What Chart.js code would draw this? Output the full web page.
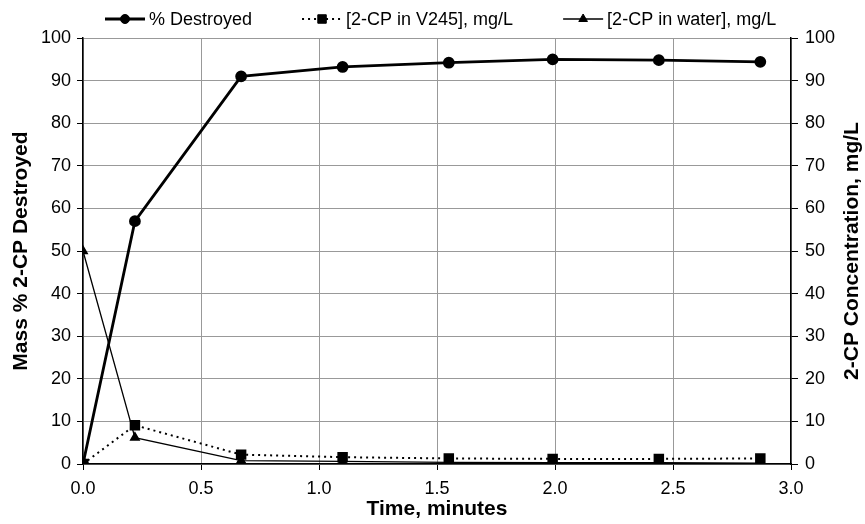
<!DOCTYPE html>
<html>
<head>
<meta charset="utf-8">
<script src="https://cdn.jsdelivr.net/npm/chart.js@4/dist/chart.umd.min.js"></script>
<style>
	html, body { margin: 0; padding: 0; background: #fff; }
	#wrap { width: 865px; height: 524px; }
</style>
</head>
<body>
<div id="wrap"><canvas id="DestroyChart"></canvas></div>
<script>
// time points, minutes
var times = [0, 0.22, 0.67, 1.10, 1.55, 1.99, 2.44, 2.87];
// series values
var pctDestroyed = [0, 57, 91, 93.2, 94.2, 95.0, 94.8, 94.4];
var concV245 = [0, 9.1, 2.2, 1.6, 1.3, 1.2, 1.2, 1.3];
var concWater = [50, 6.2, 0.8, 0.6, 0.4, 0.3, 0.3, 0.2];
var seriesNames = ["% Destroyed", "[2-CP in V245], mg/L", "[2-CP in water], mg/L"];
var rightTitle = "2-CP Concentration, mg/L";

function pts(ys) {
	return times.map(function(t, i){ return {x: t, y: ys[i]}; });
}

var fontFam = "'Liberation Sans', Arial, sans-serif";

// legend drawn as line + marker sample, like the original
var sampleLegend = {
	id: "sampleLegend",
	afterDraw: function(chart) {
		var ctx = chart.ctx;
		var x = 105, y = 19;
		ctx.save();
		ctx.font = "18px " + fontFam;
		ctx.textBaseline = "middle";
		chart.data.datasets.forEach(function(ds, i){
			var w = 40;
			ctx.strokeStyle = ds.borderColor;
			ctx.lineWidth = ds.borderWidth;
			ctx.setLineDash(ds.borderDash || []);
			ctx.beginPath();
			ctx.moveTo(x, y);
			ctx.lineTo(x + w, y);
			ctx.stroke();
			ctx.setLineDash([]);
			ctx.fillStyle = ds.pointBackgroundColor;
			ctx.strokeStyle = ds.pointBorderColor;
			ctx.lineWidth = 1;
			Chart.helpers.drawPoint(ctx, {pointStyle: ds.pointStyle, radius: ds.pointRadius, rotation: 0, borderWidth: 1}, x + w / 2, y);
			ctx.fillStyle = "#000";
			ctx.fillText(ds.label, x + w + 4, y + 1);
			x += w + 4 + ctx.measureText(ds.label).width + 50;
		});
		ctx.restore();
	}
};

// right axis title reads bottom-to-top in the original
var rightAxisTitle = {
	id: "rightAxisTitle",
	afterDraw: function(chart) {
		var ctx = chart.ctx, a = chart.chartArea;
		ctx.save();
		ctx.translate(852, (a.top + a.bottom) / 2);
		ctx.rotate(-Math.PI / 2);
		ctx.font = "bold 21px " + fontFam;
		ctx.fillStyle = "#000";
		ctx.textAlign = "center";
		ctx.textBaseline = "middle";
		ctx.fillText(rightTitle, 0, 0);
		ctx.restore();
	}
};

new Chart($id("DestroyChart"), {
	type: "line",
	data: {
		datasets: [{
			label: seriesNames[0],
			data: pts(pctDestroyed),
			yAxisID: "y",
			borderColor: "#000",
			borderWidth: 2.8,
			pointStyle: "circle",
			pointRadius: 4.5,
			pointBackgroundColor: "#000",
			pointBorderColor: "#000"
		}, {
			label: seriesNames[1],
			data: pts(concV245),
			yAxisID: "y2",
			borderColor: "#000",
			borderWidth: 2,
			borderDash: [2, 4],
			pointStyle: "rect",
			pointRadius: 6,
			pointBackgroundColor: "#000",
			pointBorderColor: "#000"
		}, {
			label: seriesNames[2],
			data: pts(concWater),
			yAxisID: "y2",
			borderColor: "#000",
			borderWidth: 1.3,
			pointStyle: "triangle",
			pointRadius: 5,
			pointBackgroundColor: "#000",
			pointBorderColor: "#000"
		}]
	},
	options: {
		responsive: true,
		maintainAspectRatio: false,
		animation: false,
		layout: { padding: { top: 38, left: 0, right: 0, bottom: 0 } },
		plugins: {
			legend: { display: false },
			tooltip: { enabled: false }
		},
		elements: { line: { tension: 0 } },
		scales: {
			x: {
				type: "linear",
				min: 0, max: 3,
				afterFit: function(s){ s.height = 60; },
				ticks: {
					stepSize: 0.5,
					padding: 8,
					color: "#000",
					font: { family: fontFam, size: 18 },
					callback: function(v){ return v.toFixed(1); }
				},
				grid: { color: "#999", lineWidth: 1, tickColor: "#000", tickLength: 6 },
				border: { color: "#000", width: 1.5 },
				title: {
					display: true,
					text: "Time, minutes",
					color: "#000",
					font: { family: fontFam, size: 21, weight: "bold" },
					padding: { top: 0, bottom: 2 }
				}
			},
			y: {
				position: "left",
				min: 0, max: 100,
				afterFit: function(s){ s.width = 83; },
				ticks: {
					stepSize: 10,
					padding: 6,
					color: "#000",
					font: { family: fontFam, size: 18 }
				},
				grid: { color: "#999", lineWidth: 1, tickColor: "#000", tickLength: 6 },
				border: { color: "#000", width: 1.5 },
				title: {
					display: true,
					text: "Mass % 2-CP Destroyed",
					color: "#000",
					font: { family: fontFam, size: 21, weight: "bold" },
					padding: { top: 9, bottom: 0 }
				}
			},
			y2: {
				position: "right",
				min: 0, max: 100,
				afterFit: function(s){ s.width = 74; },
				ticks: {
					stepSize: 10,
					padding: 7,
					color: "#000",
					font: { family: fontFam, size: 18 }
				},
				grid: { drawOnChartArea: false, tickColor: "#000", tickLength: 7 },
				border: { color: "#000", width: 1.5 }
			}
		}
	},
	plugins: [sampleLegend, rightAxisTitle]
});

function $id(id) { return document.getElementById(id); }
</script>
</body>
</html>
